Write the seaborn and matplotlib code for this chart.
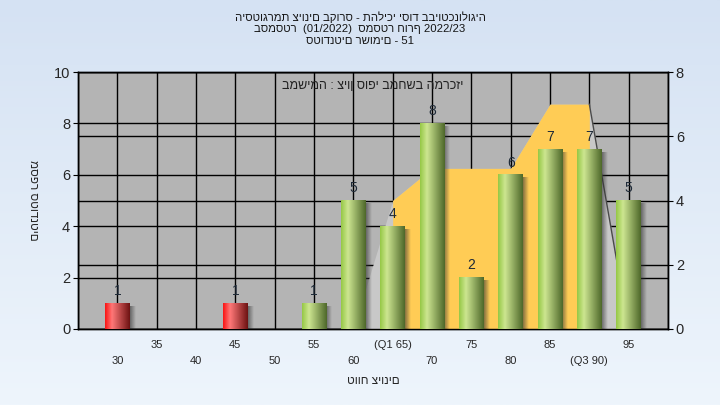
import numpy as np
import pandas as pd
import matplotlib
matplotlib.use("Agg")
import matplotlib.pyplot as plt
from matplotlib.ticker import FixedLocator, FixedFormatter
import seaborn as sns

# grade histogram data
grades = [30, 35, 40, 45, 50, 55, 60, 65, 70, 75, 80, 85, 90, 95]
counts = [1, 0, 0, 1, 0, 1, 5, 4, 8, 2, 6, 7, 7, 5]
tick_labels = ["30", "35", "40", "45", "50", "55", "60", "(Q1 65)",
               "70", "75", "80", "85", "(Q3 90)", "95"]
pass_grade = 55

# background area (right axis)
area_grades = [60, 65, 70, 75, 80, 85, 90, 95]
area_values = [0, 4, 5, 5, 5, 7, 7, 0]
q1, q3 = 65, 90

title_lines = ["היסטוגרמת ציונים בקורס - תהליכי יסוד בביוטכנולוגיה",
               "בסמסטר  (01/2022)  סמסטר חורף 2022/23",
               "סטודנטים רשומים - 51"]
note = "במשימה : ציון סופי במחשב המרכזי"
xlabel = "טווח ציונים"
ylabel = "מספר סטודנטים"

sns.set_style("white")
plt.rcParams["font.family"] = ["Liberation Sans", "DejaVu Sans"]

W, H = 720, 405
fig = plt.figure(figsize=(W / 100, H / 100), dpi=100)

# light blue gradient behind everything
bg = fig.add_axes([0, 0, 1, 1], zorder=-10)
t = np.linspace(0, 1, 200)[:, None, None]
top = np.array([213, 226, 243]) / 255
bot = np.array([238, 245, 252]) / 255
bg.imshow(top + (bot - top) * t, aspect="auto", extent=[0, 1, 0, 1])
bg.axis("off")

left, right, ytop, ybot = 78, 668, 72, 329
ax = fig.add_axes([left / W, 1 - ybot / H, (right - left) / W, (ybot - ytop) / H])
ax2 = ax.twinx()
ax.set_zorder(2)
ax2.set_zorder(1)
ax.patch.set_visible(False)
ax2.patch.set_visible(True)
ax2.patch.set_facecolor("#b4b4b4")

df = pd.DataFrame({
    "grade": [str(g) for g in grades],
    "count": counts,
    "status": ["fail" if g < pass_grade else "pass" for g in grades],
})
sns.barplot(data=df, x="grade", y="count", hue="status", order=df["grade"],
            palette={"fail": "#e02020", "pass": "#94bf4a"}, dodge=False,
            width=0.62, legend=False, errorbar=None, ax=ax, zorder=3,
            linewidth=0)
bars = [p for p in ax.patches]

# area polygon, drawn on the left axes but in right-axis units
ax_x = [grades.index(g) for g in area_grades]
ax.fill_between(ax_x, area_values, color="#c8c8c8", lw=0, zorder=1,
                transform=ax2.transData)
i1, i2 = area_grades.index(q1), area_grades.index(q3) + 1
ax.fill_between(ax_x[i1:i2], area_values[i1:i2], color="#ffcc55", lw=0, zorder=1.2,
                transform=ax2.transData)
ax.plot(ax_x[-2:], area_values[-2:], color="#4a4a4a", lw=1, zorder=1.4,
        transform=ax2.transData)

# cylinder-like shading + drop shadow for each bar
def ramp(stops, n=64):
    pos = [s[0] for s in stops]
    cols = np.array([s[1] for s in stops]) / 255
    xs = np.linspace(0, 1, n)
    return np.stack([np.interp(xs, pos, cols[:, k]) for k in range(3)], axis=-1)[None]

green = ramp([(0, (150, 200, 70)), (0.28, (205, 230, 145)), (1, (78, 104, 42))])
red = ramp([(0, (250, 20, 20)), (0.28, (255, 120, 120)), (1, (110, 18, 18))])
shadow = np.zeros((1, 32, 4))
shadow[..., 0:3] = 0.2
shadow[..., 3] = np.linspace(0.6, 0.0, 32)

for p in bars:
    h = p.get_height()
    if h <= 0:
        p.set_visible(False)
        continue
    x0, w = p.get_x(), p.get_width()
    idx = int(round(x0 + w / 2))
    img = red if df["status"][idx] == "fail" else green
    ax.imshow(shadow, extent=[x0 + w, x0 + w + 0.15, 0, h - 0.12],
              aspect="auto", zorder=2.5, interpolation="bilinear")
    ax.imshow(img, extent=[x0, x0 + w, 0, h], aspect="auto", zorder=3.2,
              interpolation="bilinear")
    ax.text(x0 + w / 2, h + 0.2, f"{int(h)}", ha="center", va="bottom",
            fontsize=10, color="#1e2a38", zorder=4)

n = len(grades)
ax.set_xlim(-1, n)
ax.set_ylim(0, 10)
ax.set_yticks(range(0, 11, 2))
ax2.set_ylim(0, 8)
ax2.set_yticks(range(0, 9, 2))

major = list(range(1, n, 2))
minor = [-1] + list(range(0, n, 2)) + [n]
ax.xaxis.set_major_locator(FixedLocator(major))
ax.xaxis.set_major_formatter(FixedFormatter([tick_labels[i] for i in major]))
ax.xaxis.set_minor_locator(FixedLocator(minor))
ax.xaxis.set_minor_formatter(FixedFormatter([""] + [tick_labels[i] for i in range(0, n, 2)] + [""]))
ax.tick_params(axis="x", which="major", length=3.6, pad=4, labelsize=8, color="black")
ax.tick_params(axis="x", which="minor", length=3.6, pad=16, labelsize=8, color="black")
ax.tick_params(axis="y", length=3.6, pad=2, labelsize=10.5, color="black", left=True)
ax2.tick_params(axis="y", length=3.6, pad=2, labelsize=10.5, color="black", right=True)

ax.set_axisbelow(True)
ax.grid(axis="x", which="both", color="black", lw=1)
ax.grid(axis="y", color="black", lw=1)
ax2.grid(axis="y", color="black", lw=1)
ax2.grid(axis="x", visible=False)
for a in (ax, ax2):
    for s in a.spines.values():
        s.set_color("black")
        s.set_linewidth(1)

ax.set_xlabel(xlabel, fontsize=8.5, va="center")
ax.xaxis.set_label_coords(0.5, -(381 - ybot) / (ybot - ytop))
ax.set_ylabel(ylabel, fontsize=8.5, rotation=270, va="center", ha="center")
ax.yaxis.set_label_coords((33 - left) / (right - left), 0.5)

ax.text(0.5, (ybot - 86) / (ybot - ytop), note, transform=ax.transAxes,
        ha="center", va="center", fontsize=9, color="#222222", zorder=5)

for k, line in enumerate(title_lines):
    fig.text(0.5, 1 - (17 + 12 * k) / H, line, ha="center", va="center",
             fontsize=8.2, color="#151515")

fig.savefig("out.png", dpi=100)
